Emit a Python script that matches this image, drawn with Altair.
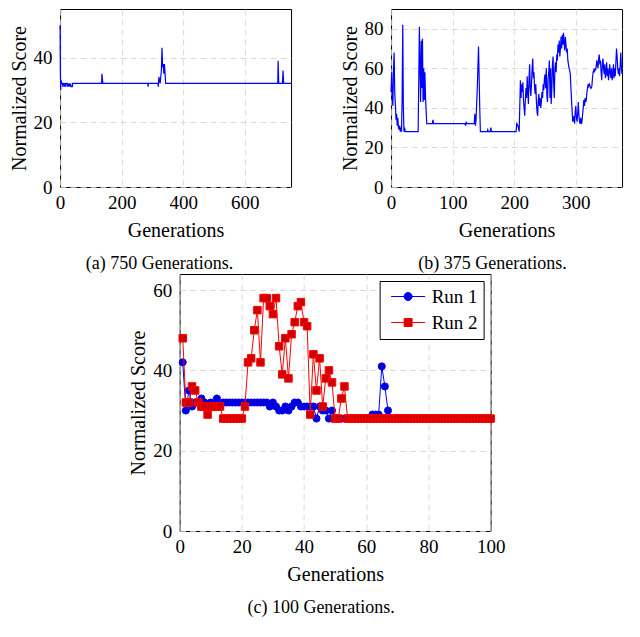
import altair as alt
import pandas as pd

# ---------------------------------------------------------------------------
# data
# ---------------------------------------------------------------------------

# (a) 750 generations: breakpoints of the best-score trace
a_gen = [0, 1, 2, 3, 5, 8, 9, 10, 13, 14, 15, 18, 19, 23, 24, 25, 28, 30, 33, 34,
         36, 40, 41, 135, 136, 137, 139, 285, 286, 287, 318, 319, 321, 323, 325,
         327, 329, 331, 333, 335, 337, 339, 341, 343, 707, 708, 710, 722, 724, 726, 750]
a_score = [50, 36, 30, 33, 32, 32, 31, 32, 32, 31, 32, 31, 32, 32, 31, 32, 31, 32, 31, 32,
           31, 31, 32, 32, 35, 34, 32, 32, 31, 32, 32, 31, 34, 33, 32,
           34, 36, 43, 37, 38, 35, 38, 35, 32, 32, 39, 32, 32, 36, 32, 32]

# (b) 375 generations
b_gen = [0, 1, 2, 3, 4, 5, 6, 7, 8, 9, 10, 11, 12, 13, 14, 15, 16, 17, 18, 19, 20, 21, 22, 23,
         44, 46, 47, 48, 49, 50, 51, 52, 53, 54, 55, 56, 58,
         67, 68, 69, 120, 121, 122, 123, 135, 136, 137, 138, 140, 142, 144, 145,
         156, 157, 158, 161, 162, 163, 203, 204, 206, 208,
         210, 211, 212, 213, 214, 215, 216, 217, 218, 219, 220, 221, 222, 223, 224, 225,
         226, 227, 228, 229, 230, 231, 232, 233, 234, 235, 236, 237, 238, 239, 240, 241,
         242, 243, 244, 245, 246, 247, 248, 249, 250, 251, 252, 253, 254, 255, 256, 257,
         258, 259, 260, 261, 262, 263, 264, 265, 266, 267, 268, 269, 270, 271, 272, 273,
         274, 275, 276, 277, 278, 279, 280, 281, 282, 283, 284, 285, 286, 287, 288, 289,
         290, 291, 292, 293, 294, 295, 296, 297, 298, 299, 300, 301, 302, 303, 304, 305,
         306, 307, 308, 309, 310, 311, 312, 313, 314, 315, 316, 317, 318, 319, 320, 321,
         322, 323, 324, 325, 326, 327, 328, 329, 330, 331, 332, 333, 334, 335, 336, 337,
         338, 339, 340, 341, 342, 343, 344, 345, 346, 347, 348, 349, 350, 351, 352, 353,
         354, 355, 356, 357, 358, 359, 360, 361, 362, 363, 364, 365, 366, 367, 368, 369,
         370, 371, 372, 373, 374, 375]
b_score = [48, 58, 45, 41, 60, 68, 48, 42, 34, 37, 31, 35, 30, 29, 31, 28, 30, 28, 45, 82, 40, 28, 30, 28,
           28, 81, 60, 43, 74, 50, 75, 43, 60, 44, 58, 45, 32,
           32, 34, 32, 32, 31, 33, 32, 32, 37, 31, 34, 50, 71, 40, 28,
           28, 29, 28, 28, 30, 28, 28, 32, 31, 28,
           54, 45, 52, 48, 53, 44, 40, 36, 44, 50, 45, 56, 48, 42, 55, 62,
           50, 46, 52, 60, 65, 55, 58, 50, 47, 52, 43, 38, 36, 44, 47, 41,
           45, 40, 43, 48, 45, 52, 49, 55, 57, 50, 60, 46, 43, 55, 58, 64,
           45, 60, 42, 50, 62, 66, 52, 45, 60, 63, 58, 67, 64, 72, 68, 74,
           66, 70, 76, 70, 77, 72, 78, 73, 69, 76, 72, 68, 70, 64, 62, 60,
           59, 57, 50, 44, 38, 33, 34, 36, 32, 38, 41, 35, 33, 37, 43, 36,
           33, 32, 35, 32, 33, 37, 40, 44, 41, 45, 43, 44, 48, 50, 52, 51,
           52, 51, 50, 50, 51, 55, 58, 59, 58, 60, 59, 61, 64, 62, 60, 65,
           67, 62, 64, 58, 54, 62, 65, 60, 57, 62, 55, 58, 63, 56, 60, 54,
           57, 62, 58, 55, 60, 54, 57, 62, 55, 60, 56, 63, 70, 66, 60, 57,
           60, 56, 62, 68, 60, 57]

# (c) 100 generations, two runs
c_gen = list(range(1, 101))
run1 = [42, 30, 35, 31, 32, 32, 33, 32, 31, 32, 32, 33, 31, 32, 32, 32, 32, 32, 32, 32,
        32, 32, 32, 32, 32, 32, 32, 32, 31, 32, 31, 30, 30, 31, 30, 31, 32, 32, 31, 31,
        31, 31, 31, 28, 31, 30, 30, 28, 30, 28, 28, 28, 28, 28, 28, 28, 28, 28, 28, 28,
        28, 29, 29, 29, 41, 36, 30, 28, 28, 28, 28, 28, 28, 28, 28, 28, 28, 28, 28, 28,
        28, 28, 28, 28, 28, 28, 28, 28, 28, 28, 28, 28, 28, 28, 28, 28, 28, 28, 28, 28]
run2 = [48, 32, 32, 36, 35, 32, 31, 31, 29, 31, 31, 31, 31, 28, 28, 28, 28, 28, 28, 28,
        31, 42, 43, 50, 55, 42, 58, 58, 56, 54, 58, 46, 39, 48, 38, 49, 52, 56, 57, 52,
        51, 29, 44, 35, 43, 31, 38, 40, 37, 28, 28, 33, 36, 28, 28, 28, 28, 28, 28, 28,
        28, 28, 28, 28, 28, 28, 28, 28, 28, 28, 28, 28, 28, 28, 28, 28, 28, 28, 28, 28,
        28, 28, 28, 28, 28, 28, 28, 28, 28, 28, 28, 28, 28, 28, 28, 28, 28, 28, 28, 28]
run_names = ['Run 1', 'Run 2']

FONT = 'Liberation Serif, Times New Roman, serif'
BLUE, BLUE_FILL = '#0000ff', '#0000d0'
RED, RED_FILL = '#ff0000', '#d00000'

# legend glyphs: a short line with the marker in its middle
circle_glyph = 'M-1,0H7.5M4.25,0A1,1,0,1,1,2.25,0A1,1,0,1,1,4.25,0Z'
square_glyph = 'M-1,0H7.5M2.25,-1H4.25V1H2.25Z'


def caption(text, dx):
    return alt.TitleParams(text=text, orient='bottom', anchor='middle', frame='group',
                           dx=dx, offset=15, fontSize=18, font=FONT,
                           fontWeight='normal', color='black')


# ---------------------------------------------------------------------------
# (a) 750 generations
# ---------------------------------------------------------------------------
df_a = pd.DataFrame({'gen': a_gen, 'score': a_score})
chart_a = alt.Chart(df_a).mark_line(color=BLUE, strokeWidth=1.2).encode(
    x=alt.X('gen:Q', title='Generations',
            scale=alt.Scale(domain=[0, 750], nice=False),
            axis=alt.Axis(values=[0, 200, 400, 600])),
    y=alt.Y('score:Q', title='Normalized Score',
            scale=alt.Scale(domain=[0, 55], nice=False),
            axis=alt.Axis(values=[0, 20, 40]))
).properties(width=231, height=178, title=caption('(a) 750 Generations.', -16))

# ---------------------------------------------------------------------------
# (b) 375 generations
# ---------------------------------------------------------------------------
df_b = pd.DataFrame({'gen': b_gen, 'score': b_score})
chart_b = alt.Chart(df_b).mark_line(color=BLUE, strokeWidth=1.2).encode(
    x=alt.X('gen:Q', title='Generations',
            scale=alt.Scale(domain=[0, 375], nice=False),
            axis=alt.Axis(values=[0, 100, 200, 300])),
    y=alt.Y('score:Q', title='Normalized Score',
            scale=alt.Scale(domain=[0, 90], nice=False),
            axis=alt.Axis(values=[0, 20, 40, 60, 80]))
).properties(width=231, height=178, title=caption('(b) 375 Generations.', -14))

# ---------------------------------------------------------------------------
# (c) 100 generations, two runs
# ---------------------------------------------------------------------------
df_c = pd.DataFrame({
    'gen': c_gen + c_gen,
    'score': run1 + run2,
    'run': [run_names[0]] * len(c_gen) + [run_names[1]] * len(c_gen),
})

x_c = alt.X('gen:Q', title='Generations',
            scale=alt.Scale(domain=[0, 100], nice=False),
            axis=alt.Axis(values=[0, 20, 40, 60, 80, 100]))
y_c = alt.Y('score:Q', title='Normalized Score',
            scale=alt.Scale(domain=[0, 64], nice=False),
            axis=alt.Axis(values=[0, 20, 40, 60]))

base_c = alt.Chart(df_c).encode(x=x_c, y=y_c)

line1 = base_c.transform_filter(alt.datum.run == 'Run 1').mark_line(color=BLUE, strokeWidth=1)
dots1 = base_c.transform_filter(alt.datum.run == 'Run 1').mark_point(
    shape='circle', filled=True, size=50, fill=BLUE_FILL, stroke=BLUE, strokeWidth=1, opacity=1)
line2 = base_c.transform_filter(alt.datum.run == 'Run 2').mark_line(color=RED, strokeWidth=1)
dots2 = base_c.transform_filter(alt.datum.run == 'Run 2').mark_point(
    shape='square', filled=True, size=56, fill=RED_FILL, stroke=RED, strokeWidth=1, opacity=1)

# legend only: no marks drawn, the scales carry the two entries
legend_layer = base_c.transform_filter('false').mark_point(
    filled=True, size=64, strokeWidth=1, opacity=1).encode(
    shape=alt.Shape('run:N', scale=alt.Scale(domain=run_names, range=[circle_glyph, square_glyph]),
                    legend=alt.Legend(title=None, orient='top-right', offset=7, padding=6,
                                      strokeColor='black', fillColor='white', cornerRadius=0,
                                      labelFont=FONT, labelFontSize=19, labelColor='black',
                                      labelOffset=27, rowPadding=6, symbolSize=64,
                                      symbolStrokeWidth=1)),
    fill=alt.Fill('run:N', scale=alt.Scale(domain=run_names, range=[BLUE_FILL, RED_FILL]),
                  legend=alt.Legend(title=None)),
    stroke=alt.Stroke('run:N', scale=alt.Scale(domain=run_names, range=[BLUE, RED]),
                      legend=alt.Legend(title=None)),
)

chart_c = alt.layer(line1, dots1, line2, dots2, legend_layer).properties(
    width=311, height=257, title=caption('(c) 100 Generations.', -14))

# ---------------------------------------------------------------------------
# compose
# ---------------------------------------------------------------------------
top_row = alt.hconcat(chart_a, chart_b, spacing=45)

chart = alt.vconcat(top_row, chart_c, spacing=-4, center=True).resolve_scale(
    shape='independent', fill='independent', stroke='independent'
).resolve_legend(
    shape='independent', fill='independent', stroke='independent'
).properties(
    padding=0
).configure_view(
    stroke='black', strokeWidth=1
).configure_axis(
    grid=True, gridColor='#d0d0d0', gridDash=[6, 4], gridWidth=0.8,
    domain=False, ticks=False, labelFlush=False,
    labelFont=FONT, labelFontSize=19, labelColor='black',
    titleFont=FONT, titleFontSize=20, titleFontWeight='normal', titleColor='black'
).configure_axisX(
    labelPadding=6, titlePadding=8
).configure_axisY(
    labelPadding=8, titlePadding=4
)

chart.save("out.html", embed_options={"renderer": "svg", "actions": False})
